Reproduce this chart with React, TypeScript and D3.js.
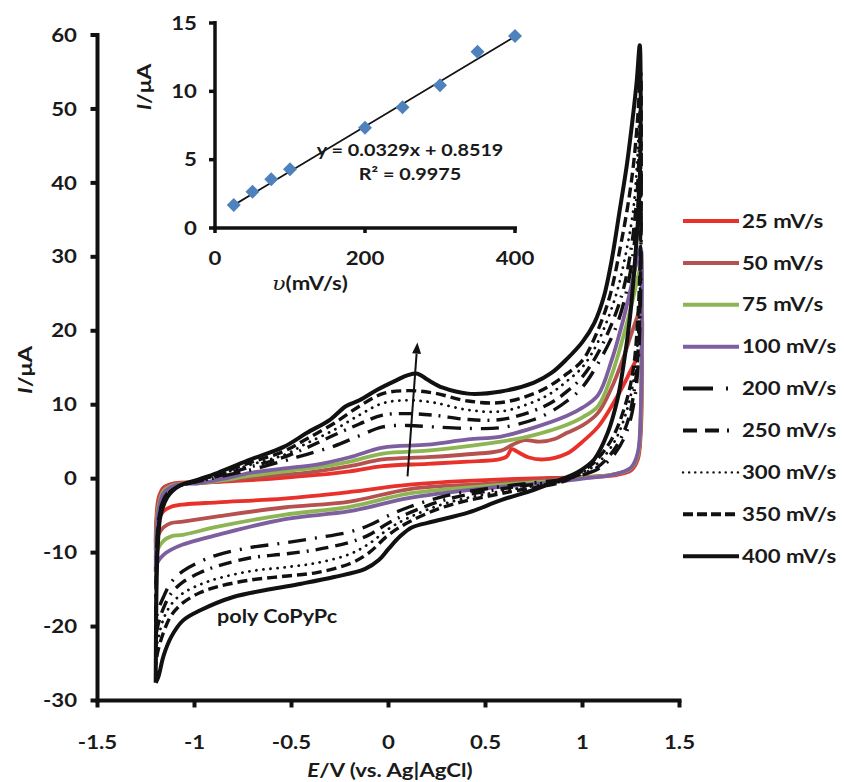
import React from 'react';
import * as d3 from 'd3';

type Pt = [number, number];

// ---------- data ----------
const seriesLabels = ['25 mV/s', '50 mV/s', '75 mV/s', '100 mV/s', '200 mV/s', '250 mV/s', '300 mV/s', '350 mV/s', '400 mV/s'];
const xTicks = [-1.5, -1, -0.5, 0, 0.5, 1, 1.5];
const yTicks = [-30, -20, -10, 0, 10, 20, 30, 40, 50, 60];
const insetXTicks = [0, 200, 400];
const insetYTicks = [0, 5, 10, 15];
const insetRates = [25, 50, 75, 100, 200, 250, 300, 350, 400];
const insetPeak = [1.68, 2.66, 3.56, 4.29, 7.34, 8.83, 10.44, 12.9, 14.05];
const fitSlope = 0.0329;
const fitIntercept = 0.8519;
const fitRange = [25, 400];

const cv25: Pt[] = [
  [-1.2, -8.6], [-1.197, -5.5], [-1.185, -2.6], [-1.16, -1.2], [-1.1, -0.6], [-0.97, -0.5], [-0.85, -0.4], [-0.71, -0.2],
  [-0.5, 0.2], [-0.37, 0.5], [-0.2, 1.0], [-0.03, 1.7], [0.2, 2.0], [0.41, 2.3], [0.57, 2.6], [0.61, 3.0], [0.635, 4.0],
  [0.66, 3.7], [0.72, 2.9], [0.8, 2.6], [0.92, 3.4], [1.0, 5.0], [1.08, 7.0], [1.15, 9.8], [1.21, 12.6], [1.26, 15.2], [1.3, 17.0],
  [1.305, 12], [1.3, 6], [1.285, 2.6], [1.25, 1.1], [1.15, 0.4], [1.0, 0.2], [0.84, 0.1], [0.5, -0.2], [0.11, -0.8],
  [-0.2, -1.8], [-0.54, -2.7], [-0.88, -3.2], [-1.06, -3.5], [-1.12, -3.8], [-1.16, -4.4], [-1.19, -6.0], [-1.2, -8.6],
];
const cv50: Pt[] = [
  [-1.2, -9.6], [-1.197, -6.5], [-1.185, -3.2], [-1.16, -1.4], [-1.1, -0.7], [-0.97, -0.6], [-0.85, -0.3], [-0.71, 0.1],
  [-0.5, 0.6], [-0.37, 1.0], [-0.2, 1.7], [-0.03, 2.6], [0.2, 2.9], [0.41, 3.3], [0.58, 3.8], [0.64, 4.6], [0.7, 5.2],
  [0.78, 5.0], [0.86, 5.4], [0.92, 6.2], [1.0, 7.2], [1.08, 8.9], [1.15, 12.3], [1.21, 16.3], [1.26, 20.2], [1.3, 22.8],
  [1.305, 15], [1.3, 7], [1.285, 3], [1.25, 1.3], [1.15, 0.5], [1.0, 0.2], [0.84, -0.1], [0.5, -0.7], [0.11, -1.4],
  [-0.2, -3.1], [-0.54, -3.9], [-0.88, -5.1], [-1.06, -5.8], [-1.12, -6.0], [-1.16, -6.6], [-1.19, -7.8], [-1.2, -9.6],
];
const cv75: Pt[] = [
  [-1.2, -11.0], [-1.197, -7.5], [-1.187, -4.0], [-1.16, -1.7], [-1.1, -0.8], [-0.97, -0.6], [-0.85, -0.2], [-0.71, 0.4],
  [-0.5, 1.1], [-0.37, 1.5], [-0.2, 2.3], [-0.03, 3.4], [0.2, 3.8], [0.41, 4.4], [0.58, 5.0], [0.75, 5.9], [0.92, 7.3],
  [1.0, 8.3], [1.08, 9.8], [1.15, 14.0], [1.21, 19.2], [1.26, 24.3], [1.29, 27.8], [1.3, 28.6],
  [1.305, 19], [1.3, 8], [1.285, 3.2], [1.25, 1.4], [1.15, 0.5], [1.0, 0.1], [0.84, -0.3], [0.5, -1.0], [0.11, -2.0],
  [-0.2, -3.8], [-0.54, -4.9], [-0.88, -6.5], [-1.06, -7.6], [-1.12, -7.8], [-1.16, -8.4], [-1.19, -9.6], [-1.2, -11.0],
];
const cv100: Pt[] = [
  [-1.2, -12.6], [-1.197, -8.5], [-1.187, -4.6], [-1.16, -2.0], [-1.1, -0.9], [-0.97, -0.6], [-0.85, 0.0], [-0.71, 0.8],
  [-0.5, 1.5], [-0.37, 1.9], [-0.2, 2.9], [-0.03, 4.2], [0.2, 4.6], [0.41, 5.3], [0.58, 5.7], [0.75, 6.9], [0.92, 8.5],
  [1.0, 9.6], [1.08, 11.3], [1.15, 16.0], [1.21, 21.5], [1.26, 27.0], [1.29, 30.5], [1.3, 31.2],
  [1.305, 21], [1.3, 9], [1.285, 3.5], [1.25, 1.5], [1.15, 0.5], [1.0, 0.0], [0.84, -0.5], [0.5, -1.3], [0.11, -2.6],
  [-0.2, -4.4], [-0.54, -5.5], [-0.88, -7.6], [-1.06, -8.9], [-1.12, -9.6], [-1.16, -10.3], [-1.19, -11.3], [-1.2, -12.6],
];
const cv200: Pt[] = [
  [-1.2, -19.5], [-1.197, -12], [-1.19, -7], [-1.175, -4], [-1.14, -2], [-1.08, -1.0], [-0.97, -0.3], [-0.88, 0.2],
  [-0.71, 1.2], [-0.54, 2.4], [-0.42, 3.3], [-0.28, 4.4], [-0.15, 5.8], [-0.03, 7.0], [0.1, 7.2], [0.23, 7.0], [0.41, 6.8],
  [0.58, 6.9], [0.75, 8.0], [0.84, 9.1], [0.92, 10.5], [1.0, 12.4], [1.1, 16.5], [1.18, 21], [1.24, 27], [1.28, 35], [1.3, 44],
  [1.302, 36], [1.3, 26], [1.29, 17], [1.27, 11], [1.23, 6.5], [1.17, 3.5], [1.08, 1.3], [0.97, 0.3], [0.9, -0.1], [0.6, -1.0],
  [0.3, -2.3], [0.11, -3.8], [0.0, -5.0], [-0.1, -6.3], [-0.2, -7.2], [-0.37, -8.0], [-0.54, -8.7], [-0.71, -9.3], [-0.88, -10.3],
  [-0.97, -11.2], [-1.06, -12.5], [-1.12, -14], [-1.16, -16], [-1.19, -18], [-1.2, -19.5],
];
const cv250: Pt[] = [
  [-1.2, -21.5], [-1.197, -13], [-1.19, -7.5], [-1.175, -4.2], [-1.14, -2.1], [-1.08, -1.0], [-0.97, -0.3], [-0.88, 0.3],
  [-0.71, 1.6], [-0.54, 2.9], [-0.42, 4.2], [-0.28, 5.9], [-0.15, 7.4], [-0.03, 8.6], [0.1, 8.8], [0.23, 8.6], [0.41, 8.0],
  [0.58, 8.0], [0.75, 9.2], [0.84, 10.3], [0.92, 11.8], [1.0, 13.8], [1.1, 18], [1.2, 24.6], [1.25, 31], [1.28, 38], [1.3, 48],
  [1.302, 39], [1.3, 29], [1.29, 19], [1.27, 12.5], [1.23, 7.5], [1.17, 4.2], [1.08, 1.6], [0.97, 0.4], [0.9, -0.2], [0.6, -1.3],
  [0.3, -2.8], [0.11, -4.6], [0.0, -6.0], [-0.1, -7.6], [-0.2, -8.6], [-0.37, -9.6], [-0.54, -10.2], [-0.71, -10.7], [-0.88, -11.8],
  [-0.97, -12.7], [-1.06, -14], [-1.12, -15.5], [-1.16, -17.5], [-1.19, -20], [-1.2, -21.5],
];
const cv300: Pt[] = [
  [-1.2, -23.5], [-1.197, -14], [-1.19, -8], [-1.175, -4.5], [-1.14, -2.2], [-1.08, -1.0], [-0.97, -0.2], [-0.88, 0.5],
  [-0.71, 1.9], [-0.54, 3.2], [-0.42, 4.8], [-0.28, 6.6], [-0.15, 8.6], [-0.03, 10.2], [0.1, 10.6], [0.23, 10.3], [0.41, 9.3],
  [0.58, 9.1], [0.75, 10.4], [0.84, 11.6], [0.92, 13.2], [1.0, 15.1], [1.08, 18.5], [1.17, 24.6], [1.22, 30], [1.26, 36], [1.28, 42], [1.3, 52],
  [1.302, 42], [1.3, 32], [1.29, 21], [1.265, 13.5], [1.22, 8.5], [1.16, 4.8], [1.07, 1.9], [0.97, 0.5], [0.9, -0.3], [0.6, -1.6],
  [0.3, -3.3], [0.11, -5.2], [0.0, -6.8], [-0.1, -8.8], [-0.2, -10.2], [-0.37, -11.4], [-0.54, -12.0], [-0.71, -12.5], [-0.88, -13.5],
  [-0.97, -14.3], [-1.06, -15.5], [-1.12, -17], [-1.16, -19], [-1.19, -22], [-1.2, -23.5],
];
const cv350: Pt[] = [
  [-1.2, -25.2], [-1.197, -15], [-1.19, -8.5], [-1.175, -4.7], [-1.14, -2.3], [-1.08, -1.0], [-0.97, -0.2], [-0.88, 0.6],
  [-0.71, 2.2], [-0.54, 3.7], [-0.42, 5.4], [-0.28, 7.5], [-0.15, 9.8], [-0.03, 11.5], [0.1, 11.9], [0.23, 11.6], [0.41, 10.5],
  [0.58, 10.3], [0.75, 11.5], [0.84, 12.7], [0.92, 14.2], [1.0, 16.0], [1.07, 19.5], [1.14, 24.6], [1.2, 32], [1.24, 38],
  [1.265, 43], [1.285, 49], [1.3, 55],
  [1.302, 45], [1.3, 34], [1.288, 23], [1.26, 14.5], [1.215, 9.5], [1.15, 5.3], [1.06, 2.2], [0.97, 0.6], [0.9, -0.4], [0.6, -1.9],
  [0.3, -3.7], [0.11, -5.8], [0.0, -7.6], [-0.1, -10.0], [-0.2, -11.5], [-0.37, -12.7], [-0.54, -13.2], [-0.71, -13.7], [-0.88, -14.6],
  [-0.97, -15.4], [-1.06, -16.8], [-1.12, -18.5], [-1.16, -20.8], [-1.19, -23.5], [-1.2, -25.2],
];
const cv400: Pt[] = [
  [-1.2, -27.6], [-1.197, -17], [-1.19, -9.5], [-1.175, -5], [-1.14, -2.5], [-1.08, -1.0], [-0.99, -0.2], [-0.88, 0.8],
  [-0.71, 2.6], [-0.54, 4.3], [-0.42, 6.2], [-0.3, 8.0], [-0.22, 9.8], [-0.15, 10.6], [-0.06, 12.0], [0.04, 13.3], [0.1, 14.0],
  [0.15, 14.2], [0.2, 13.4], [0.28, 12.3], [0.41, 11.5], [0.58, 11.8], [0.75, 13.0], [0.84, 14.3], [0.92, 16.2], [1.0, 18.5],
  [1.06, 21.0], [1.11, 24.6], [1.15, 29.5], [1.19, 36], [1.23, 42.7], [1.26, 49], [1.28, 53.9], [1.295, 58.6],
  [1.3, 51.6], [1.292, 37.7], [1.275, 31], [1.245, 21.9], [1.21, 15.1], [1.18, 10.7], [1.13, 6.2], [1.06, 2.6], [0.97, 0.8],
  [0.89, -0.1], [0.75, -1.5], [0.58, -2.9], [0.41, -4.6], [0.23, -5.8], [0.12, -6.6], [0.06, -7.8], [0.0, -9.5], [-0.05, -11.0],
  [-0.12, -12.2], [-0.28, -13.3], [-0.45, -14.2], [-0.62, -15.0], [-0.8, -16.0], [-0.97, -17.8], [-1.06, -19.2], [-1.12, -21.4],
  [-1.16, -24], [-1.185, -26.7], [-1.2, -27.6],
];
const arrowFrom: Pt = [0.098, 0.3];
const arrowTo: Pt = [0.149, 18.4];

// ---------- styles ----------
const curves = [cv25, cv50, cv75, cv100, cv200, cv250, cv300, cv350, cv400];
const styles = [
  { color: '#E8312A', width: 3.8, dash: '', legendDash: '' },
  { color: '#B5514E', width: 3.8, dash: '', legendDash: '' },
  { color: '#8DB553', width: 3.8, dash: '', legendDash: '' },
  { color: '#7D5FA0', width: 3.8, dash: '', legendDash: '' },
  { color: '#111', width: 3.4, dash: '18 9 2 9', legendDash: '30 13 2 13' },
  { color: '#111', width: 3.4, dash: '13 7 13 7 2 7', legendDash: '14 8 14 8 2 10' },
  { color: '#111', width: 2.8, dash: '0.1 7', legendDash: '0.1 6', round: true },
  { color: '#111', width: 3.4, dash: '10 5', legendDash: '10 4' },
  { color: '#111', width: 4, dash: '', legendDash: '' },
];

const FONT = 'Lato, "Open Sans", sans-serif';
const SX = 1.2;

function T(props: { x: number; y: number; anchor?: string; size?: number; rot?: number; children: any; dy?: string; weight?: number }) {
  const { x, y, anchor = 'start', size = 18.5, rot = 0, children, dy, weight = 700 } = props;
  return (
    <text
      transform={`translate(${x},${y}) rotate(${rot}) scale(${SX},1)`}
      textAnchor={anchor as any}
      fontSize={size}
      fontWeight={weight}
      fontFamily={FONT}
      fill="#1a1a1a"
      dy={dy}
    >
      {children}
    </text>
  );
}

export default function App() {
  const x = d3.scaleLinear().domain([-1.5, 1.5]).range([97.5, 679.5]);
  const y = d3.scaleLinear().domain([-30, 60]).range([700.5, 35]);
  const ix = d3.scaleLinear().domain([0, 400]).range([215, 515]);
  const iy = d3.scaleLinear().domain([0, 15]).range([228, 23]);

  const line = d3
    .line<Pt>()
    .x((d) => x(d[0]))
    .y((d) => y(d[1]))
    .curve(d3.curveCatmullRom.alpha(0.5));

  const legendY0 = 221;
  const legendStep = 41.9;

  const ax0 = x(arrowFrom[0]), ay0 = y(arrowFrom[1]);
  const ax1 = x(arrowTo[0]), ay1 = y(arrowTo[1]);
  const ang = Math.atan2(ay1 - ay0, ax1 - ax0);
  const headL = 11, headW = 4.5;
  const bx = ax1 - headL * Math.cos(ang), by = ay1 - headL * Math.sin(ang);
  const head = `M${ax1},${ay1} L${bx + headW * Math.sin(ang)},${by - headW * Math.cos(ang)} L${bx - headW * Math.sin(ang)},${by + headW * Math.cos(ang)} Z`;

  return (
    <svg width={844} height={782} style={{ position: 'absolute', left: 0, top: 0, background: '#fff' }}>
      <rect width={844} height={782} fill="#fff" />
      {/* main axes */}
      <g stroke="#111" strokeWidth={4} fill="none">
        <line x1={x(-1.5)} x2={x(-1.5)} y1={y(60) - 2} y2={y(-30) + 2} />
        <line x1={x(-1.5) - 2} x2={x(1.5) + 2} y1={y(-30)} y2={y(-30)} />
        {yTicks.map((t) => (
          <line key={'yt' + t} x1={x(-1.5) - 7} x2={x(-1.5)} y1={y(t)} y2={y(t)} />
        ))}
        {xTicks.map((t) => (
          <line key={'xt' + t} x1={x(t)} x2={x(t)} y1={y(-30)} y2={y(-30) + 7} />
        ))}
      </g>
      {yTicks.map((t) => (
        <T key={'yl' + t} x={77} y={y(t)} anchor="end" dy="0.36em">{String(t)}</T>
      ))}
      {xTicks.map((t) => (
        <T key={'xl' + t} x={x(t)} y={749} anchor="middle">{String(t)}</T>
      ))}
      <T x={390} y={777} anchor="middle" size={18.5}>
        <tspan fontStyle="italic">E</tspan>/V (vs. Ag|AgCl)
      </T>
      <T x={32} y={370} anchor="middle" rot={-90} size={19.5}>
        <tspan fontStyle="italic">I</tspan>/μA
      </T>

      {/* CV curves */}
      {curves.map((c, i) => (
        <path
          key={'cv' + i}
          d={line(c) || ''}
          fill="none"
          stroke={styles[i].color}
          strokeWidth={styles[i].width}
          strokeDasharray={styles[i].dash || undefined}
          strokeLinecap={(styles[i] as any).round ? 'round' : 'butt'}
          strokeLinejoin="round"
        />
      ))}

      {/* arrow */}
      <line x1={ax0} y1={ay0} x2={bx} y2={by} stroke="#111" strokeWidth={2} />
      <path d={head} fill="#111" />

      <T x={217} y={623} size={18}>poly CoPyPc</T>

      {/* legend */}
      {seriesLabels.map((lab, i) => {
        const ly = legendY0 + i * legendStep;
        const s = styles[i] as any;
        return (
          <g key={'lg' + i}>
            <line
              x1={683}
              x2={739}
              y1={ly}
              y2={ly}
              stroke={s.color}
              strokeWidth={s.round ? 2.4 : 4}
              strokeDasharray={s.legendDash || undefined}
              strokeLinecap={s.round ? 'round' : 'butt'}
            />
            <T x={742} y={ly} dy="0.36em">{lab}</T>
          </g>
        );
      })}

      {/* inset */}
      <g stroke="#111" strokeWidth={3.5} fill="none">
        <line x1={ix(0)} x2={ix(0)} y1={iy(15) - 2} y2={iy(0) + 2} />
        <line x1={ix(0) - 2} x2={ix(400) + 2} y1={iy(0)} y2={iy(0)} />
        {insetYTicks.map((t) => (
          <line key={'iyt' + t} x1={ix(0) - 6} x2={ix(0)} y1={iy(t)} y2={iy(t)} />
        ))}
        {insetXTicks.map((t) => (
          <line key={'ixt' + t} x1={ix(t)} x2={ix(t)} y1={iy(0)} y2={iy(0) + 5} />
        ))}
      </g>
      {insetYTicks.map((t) => (
        <T key={'iyl' + t} x={197} y={iy(t)} anchor="end" dy="0.36em">{String(t)}</T>
      ))}
      {insetXTicks.map((t) => (
        <T key={'ixl' + t} x={ix(t)} y={265} anchor="middle">{String(t)}</T>
      ))}
      <T x={151} y={87} anchor="middle" rot={-90} size={19}>
        <tspan fontStyle="italic">I</tspan>/μA
      </T>
      <T x={310} y={290} anchor="middle" size={18.5}>
        <tspan fontFamily='"DejaVu Serif", serif' fontStyle="italic" fontWeight={400}>υ</tspan>(mV/s)
      </T>
      <line
        x1={ix(fitRange[0])}
        y1={iy(fitSlope * fitRange[0] + fitIntercept)}
        x2={ix(fitRange[1])}
        y2={iy(fitSlope * fitRange[1] + fitIntercept)}
        stroke="#111"
        strokeWidth={1.8}
      />
      {insetRates.map((r, i) => (
        <path
          key={'dm' + r}
          transform={`translate(${ix(r)},${iy(insetPeak[i])})`}
          d="M0,-7 L7,0 L0,7 L-7,0 Z"
          fill="#4F81BD"
        />
      ))}
      <T x={410} y={156} anchor="middle" size={16.5}>y = 0.0329x + 0.8519</T>
      <T x={410} y={180} anchor="middle" size={16.5}>
        R² = 0.9975
      </T>
    </svg>
  );
}
